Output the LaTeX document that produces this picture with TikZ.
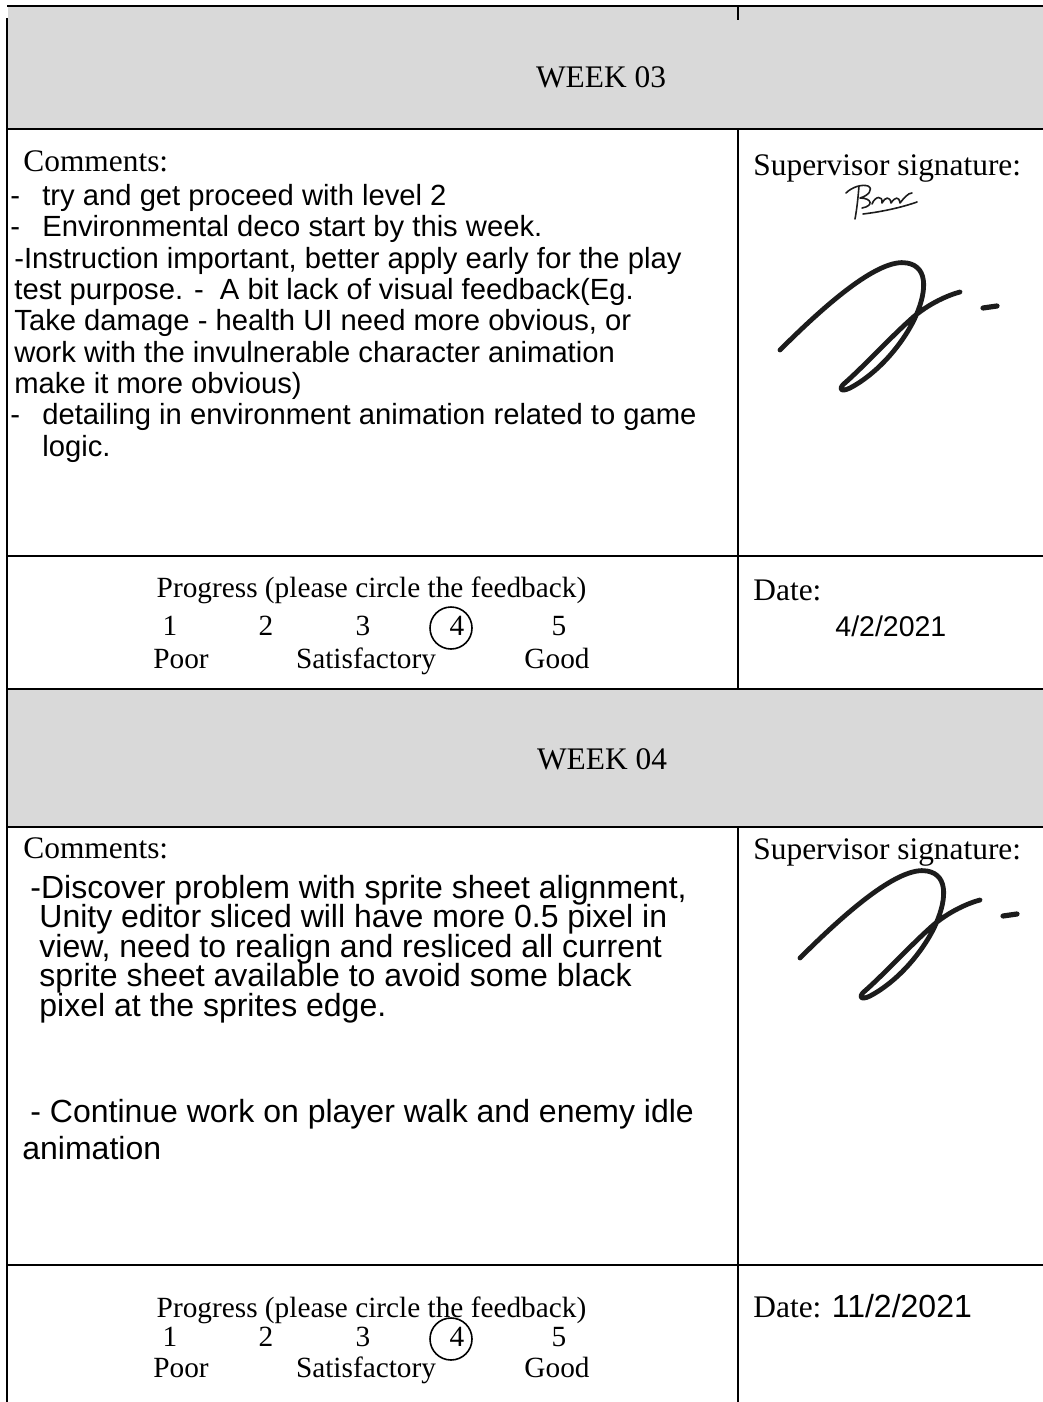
\documentclass[tikz,border=0pt]{standalone}
\usepackage{fontspec}
\setmainfont{Liberation Serif}
\newfontfamily\arialfam{Liberation Sans}
\usepackage{tikz}
\usetikzlibrary{positioning}

\definecolor{hdrgray}{RGB}{217,217,217}
\definecolor{ink}{RGB}{28,28,28}

\newcommand\fhead{\fontsize{15.7}{18}\selectfont}
\newcommand\fprog{\fontsize{14.65}{17}\selectfont}
\newcommand\fnoteA{\arialfam\fontsize{14.6}{15.65}\selectfont\lineskiplimit=-\maxdimen}
\newcommand\fnoteB{\arialfam\fontsize{16}{14.75}\selectfont\lineskiplimit=-\maxdimen}
\newcommand\fnoteC{\arialfam\fontsize{16}{18.5}\selectfont\lineskiplimit=-\maxdimen}
\newcommand\fdateA{\arialfam\fontsize{14.25}{17}\selectfont}
\newcommand\fdateB{\arialfam\fontsize{16}{19}\selectfont}
\newcommand\bul{\hspace*{-2pt}\makebox[16pt][l]{-}}

\tikzset{
  sig/.pic={
    \draw[sigline] (0,0) .. controls (50,-50) and (100,-92) .. (127,-87)
      .. controls (150,-83) and (146,-55) .. (134,-30)
      .. controls (120,-2) and (95,25) .. (70,38)
      .. controls (60,43) and (58,38) .. (66,32)
      .. controls (85,15) and (110,-12) .. (130,-30)
      .. controls (145,-44) and (165,-54) .. (180,-58);
    \draw[sigline, line width=2.6pt] (203,-42) -- (217,-44);
  }
}

\begin{document}
\begin{tikzpicture}[x=0.5pt, y=-0.5pt,
  rulethick/.style={line width=1.25pt},
  rulethin/.style={line width=0.6pt},
  rulemid/.style={line width=1pt},
  lbl/.style={anchor=base west, inner sep=0pt, font=\fhead},
  ctr/.style={anchor=base, inner sep=0pt, font=\fprog},
  note/.style={anchor=base west, inner sep=0pt, align=left},
  sigline/.style={draw=ink, line width=2.4pt, line cap=round, line join=round}
]
\useasboundingbox (0,0) rectangle (1043,1402);

% ---- grey header bands ----
\fill[hdrgray] (8,7) rectangle (1043,128);
\fill[hdrgray] (8,690) rectangle (1043,826);

% ---- table rules ----
\draw[rulethin] (7,6) -- (1043,6);
\draw[rulethin] (738,6) -- (738,20);
\draw[rulemid] (7,18) -- (7,1402);
\draw[rulethick] (7,129) -- (1043,129);
\draw[rulethick] (7,556) -- (1043,556);
\draw[rulethin] (7,689) -- (1043,689);
\draw[rulethick] (7,827) -- (1043,827);
\draw[rulethick] (7,1265) -- (1043,1265);
\draw[rulemid] (738,129) -- (738,689);
\draw[rulemid] (738,827) -- (738,1402);

% ---- Week 03 ----
\node[lbl, anchor=base] (wk3) at (601,88) {WEEK 03};
\node[lbl] (cm3) at (23,171) {Comments:};
\node[lbl] (sv3) at (753,176) {Supervisor signature:};
% (base of a multi-line node = its last line)
\node[note, font=\fnoteA] (txt3) at (14,456)
  {\bul try and get proceed with level 2\\
   \bul Environmental deco start by this week.\\
   -Instruction important, better apply early for the play\\
   test purpose. -\ \ A bit lack of visual feedback(Eg.\\
   Take damage - health UI need more obvious, or\\
   work with the invulnerable character animation\\
   make it more obvious)\\
   \bul detailing in environment animation related to game\\
   \hspace*{14pt}logic.};

% signatures
\draw[ink, line width=0.8pt, line cap=round, line join=round]
  (846,193) .. controls (852,187) and (862,184) .. (868,186)
  .. controls (874,189) and (868,196) .. (860,198)
  .. controls (872,198) and (874,206) .. (862,208)
  (859,186) .. controls (858,198) and (857,208) .. (855,219)
  (872,204) .. controls (875,196) and (883,195) .. (882,203)
  .. controls (885,197) and (890,196) .. (891,203)
  .. controls (895,197) and (899,196) .. (900,203)
  .. controls (904,198) and (908,193) .. (912,193)
  (863,214) .. controls (880,212) and (900,208) .. (917,202);
\pic at (780,350) {sig};

% progress
\node[ctr] (pg3) at (371.5,597) {Progress (please circle the feedback)};
\foreach \n/\px in {1/170,2/266,3/363,4/457,5/559}
  \node[ctr] (r3n\n) at (\px,635) {\n};
\draw[line width=0.8pt] (451,628) circle[radius=21];
\node[ctr] (r3poor) at (181,668) {Poor};
\node[ctr] (r3sat)  at (366,668) {Satisfactory};
\node[ctr] (r3good) at (557,668) {Good};
\node[lbl] (dt3) at (753,600) {Date:};
\node[lbl, font=\fdateA] (dv3) at (835,636) {4/2/2021};

% ---- Week 04 ----
\node[lbl, anchor=base] (wk4) at (602,769) {WEEK 04};
\node[lbl] (cm4) at (23,858) {Comments:};
\node[lbl] (sv4) at (753,859) {Supervisor signature:};
\node[note, font=\fnoteB] (txt4a) at (30,1016)
  {-Discover problem with sprite sheet alignment,\\
   \hspace*{4.5pt}Unity editor sliced will have more 0.5 pixel in\\
   \hspace*{4.5pt}view, need to realign and resliced all current\\
   \hspace*{4.5pt}sprite sheet available to avoid some black\\
   \hspace*{4.5pt}pixel at the sprites edge.};
\node[note, font=\fnoteC] (txt4b) at (30,1159)
  {- Continue work on player walk and enemy idle\\
   \hspace*{-4pt}animation};

\pic at (800,958) {sig};

% progress
\node[ctr] (pg4) at (371.5,1317) {Progress (please circle the feedback)};
\foreach \n/\px in {1/170,2/266,3/363,4/457,5/559}
  \node[ctr] (r4n\n) at (\px,1346) {\n};
\draw[line width=0.8pt] (451,1339) circle[radius=21];
\node[ctr] (r4poor) at (181,1377) {Poor};
\node[ctr] (r4sat)  at (366,1377) {Satisfactory};
\node[ctr] (r4good) at (557,1377) {Good};
\node[lbl] (dt4) at (753,1317) {Date: {\fdateB 11/2/2021}};
\end{tikzpicture}
\end{document}
